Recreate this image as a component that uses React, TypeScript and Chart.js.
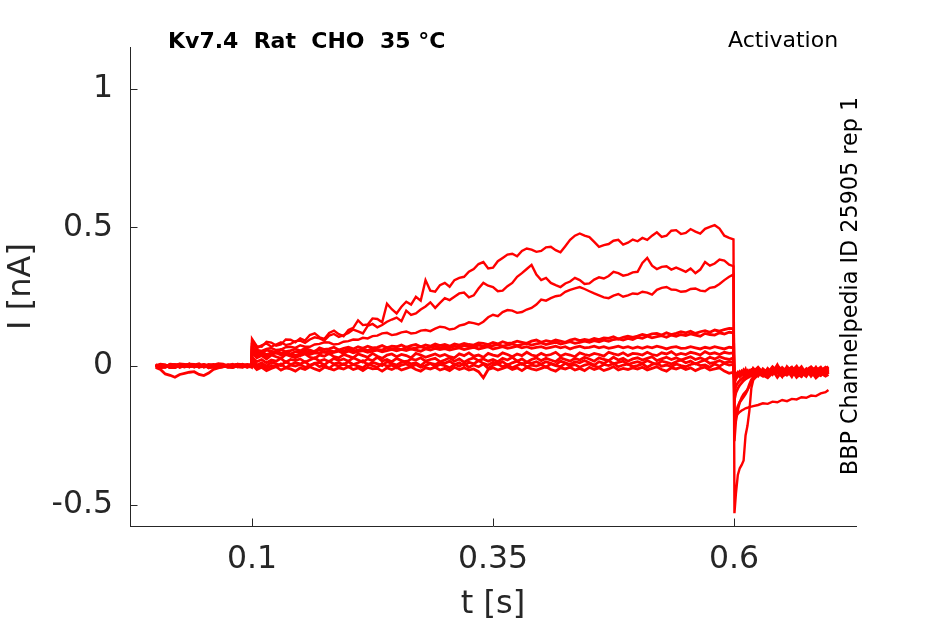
import { useEffect, useRef } from "react"
import { Chart, type ChartConfiguration, registerables } from "chart.js"

Chart.register(...registerables)

// sample times (s): holding, test pulse, tail
const timeS = [
  0, 0.005, 0.01, 0.015, 0.02, 0.025, 0.03, 0.035, 0.04, 0.045,
  0.05, 0.055, 0.06, 0.065, 0.07, 0.075, 0.08, 0.085, 0.09, 0.095, 0.0995,
  0.1, 0.105, 0.11, 0.115, 0.12, 0.125, 0.13, 0.135, 0.14, 0.145,
  0.15, 0.155, 0.16, 0.165, 0.17, 0.175, 0.18, 0.185, 0.19, 0.195,
  0.2, 0.205, 0.21, 0.215, 0.22, 0.225, 0.23, 0.235, 0.24, 0.245,
  0.25, 0.255, 0.26, 0.265, 0.27, 0.275, 0.28, 0.285, 0.29, 0.295,
  0.3, 0.305, 0.31, 0.315, 0.32, 0.325, 0.33, 0.335, 0.34, 0.345,
  0.35, 0.355, 0.36, 0.365, 0.37, 0.375, 0.38, 0.385, 0.39, 0.395,
  0.4, 0.405, 0.41, 0.415, 0.42, 0.425, 0.43, 0.435, 0.44, 0.445,
  0.45, 0.455, 0.46, 0.465, 0.47, 0.475, 0.48, 0.485, 0.49, 0.495,
  0.5, 0.505, 0.51, 0.515, 0.52, 0.525, 0.53, 0.535, 0.54, 0.545,
  0.55, 0.555, 0.56, 0.565, 0.57, 0.575, 0.58, 0.585, 0.59, 0.595, 0.5995,
  0.6005, 0.602, 0.604, 0.606, 0.608, 0.61, 0.612, 0.614, 0.616, 0.618,
  0.62, 0.625, 0.63, 0.635, 0.64, 0.645, 0.65, 0.655, 0.66, 0.665,
  0.67, 0.675, 0.68, 0.685, 0.69, 0.695, 0.698,
]

// current traces in pA (plotted as nA)
const trace1 = [
  4, -6, -3, 8, 6, -5, 2, 9, -4, 3, 5, -7, 1, 6, -2, 4, 8, -3, 3, 7, 5,
  98, 72, 70, 88, 85, 74, 78, 96, 95, 86,
  100, 92, 112, 118, 104, 98, 120, 128, 115, 108,
  130, 138, 165, 148, 150, 172, 170, 158, 225, 205,
  190, 214, 232, 222, 250, 236, 310, 272, 268, 292,
  300, 286, 310, 318, 322, 340, 350, 368, 375, 352,
  355, 378, 390, 402, 405, 396, 415, 424, 420, 412,
  415, 428, 430, 418, 410, 432, 455, 470, 478, 470,
  465, 448, 430, 436, 440, 452, 455, 438, 445, 456,
  450, 462, 455, 470, 482, 466, 470, 488, 490, 476,
  480, 494, 485, 478, 495, 502, 508, 496, 470, 462, 457,
  -530, -460, -392, -368, -356, -340, -250, -215, -160, -80,
  -50, -32, -18, -30, -10, -24, -36, -14, -4, -22,
  -30, -12, -26, -6, -20, -32, -14,
]
const trace2 = [
  -2, 5, 4, -6, -5, 3, 3, -4, 6, 1, -1, 7, 4, -5, -3, 2, 2, 8, 6, -3, 1,
  85, 64, 75, 82, 70, 78, 86, 76, 80, 90,
  92, 84, 96, 104, 100, 92, 110, 116, 105, 112,
  120, 132, 125, 118, 145, 152, 140, 148, 160, 168,
  175, 162, 200, 185, 190, 204, 215, 230, 210, 228,
  245, 238, 250, 262, 265, 248, 255, 280, 300, 290,
  285, 270, 272, 288, 300, 322, 335, 350, 365, 330,
  310, 318, 300, 292, 285, 298, 305, 318, 310, 296,
  298, 312, 320, 316, 325, 340, 335, 326, 330, 338,
  340, 372, 390, 362, 350, 358, 360, 348, 355, 348,
  340, 352, 335, 348, 375, 362, 370, 384, 380, 366, 360,
  -200, -182, -172, -165, -160, -156, -152, -150, -147, -146,
  -144, -140, -134, -136, -128, -130, -122, -126, -118, -120,
  -112, -114, -106, -108, -98, -94, -86,
]
const trace3 = [
  3, -1, -4, 6, 2, -3, 5, 8, -2, 1, 3, -6, -5, 4, 4, -2, 1, 6, -3, 2, 4,
  65, 58, 55, 62, 65, 58, 60, 68, 70, 66,
  75, 70, 70, 78, 80, 86, 85, 78, 80, 88,
  90, 96, 95, 102, 100, 108, 110, 118, 120, 112,
  115, 122, 125, 118, 120, 128, 130, 126, 135, 142,
  140, 132, 135, 146, 150, 158, 155, 150, 160, 176,
  185, 180, 195, 202, 200, 192, 195, 204, 210, 222,
  240, 236, 245, 252, 255, 268, 275, 280, 285, 278,
  270, 262, 255, 248, 245, 254, 260, 250, 255, 262,
  260, 268, 265, 258, 275, 282, 285, 276, 275, 268,
  270, 278, 280, 272, 270, 282, 285, 296, 310, 322, 330,
  -270, -200, -160, -130, -112, -100, -92, -84, -74, -60,
  -48, -30, -18, -36, -10, -26, -4, -20, -32, -12,
  -24, -38, -8, -22, -30, -14, -20,
]
const trace4 = [
  2, 7, 5, -4, -3, 6, 1, -2, 4, 9, -2, 3, 6, -1, 2, 5, -4, 1, 3, -2, 2,
  72, 52, 46, 58, 54, 48, 60, 52, 56, 62,
  55, 64, 58, 52, 66, 60, 62, 68, 58, 64,
  68, 62, 70, 64, 72, 66, 68, 74, 66, 72,
  70, 76, 68, 74, 78, 70, 76, 72, 80, 74,
  78, 72, 80, 76, 82, 78, 76, 84, 82, 78,
  85, 80, 88, 82, 84, 90, 86, 82, 90, 94,
  86, 92, 88, 94, 90, 86, 94, 98, 92, 96,
  93, 100, 96, 102, 100, 106, 98, 104, 108, 104,
  108, 114, 110, 116, 118, 112, 120, 114, 118, 124,
  120, 126, 118, 124, 128, 122, 130, 126, 132, 136, 135,
  -200, -170, -145, -130, -120, -110, -100, -86, -66, -50,
  -40, -22, -34, -8, -26, -16, -38, -2, -20, -30,
  -12, -28, -6, -24, -34, -14, -18,
]
const trace5 = [
  -3, 4, 2, -5, 4, 7, -1, 3, 3, -4, 6, 2, -2, 5, 1, -3, 4, 7, -1, 2, 3,
  62, 44, 50, 42, 48, 54, 46, 50, 44, 52,
  50, 56, 48, 54, 58, 50, 56, 52, 58, 54,
  60, 54, 58, 62, 56, 64, 60, 58, 66, 62,
  64, 60, 68, 62, 66, 70, 64, 68, 72, 66,
  70, 66, 72, 68, 74, 70, 68, 76, 72, 70,
  74, 78, 72, 76, 80, 74, 78, 82, 76, 80,
  84, 78, 82, 86, 80, 84, 88, 82, 86, 90,
  86, 92, 88, 94, 90, 96, 98, 94, 100, 96,
  104, 100, 108, 102, 106, 110, 104, 112, 108, 114,
  110, 116, 112, 108, 118, 114, 112, 120, 116, 122, 120,
  -120, -96, -80, -68, -60, -52, -46, -42, -38, -34,
  -30, -14, -28, -38, -6, -22, -32, -16, -4, -26,
  -36, -12, -20, -30, -8, -24, -16,
]
const trace6 = [
  1, -5, -4, 3, 3, 8, 6, -2, 1, 4, -3, 2, 4, 9, 7, -1, 2, 5, -2, 1, 5,
  52, 38, 44, 36, 42, 48, 40, 46, 42, 38,
  44, 50, 42, 48, 46, 52, 44, 50, 54, 46,
  55, 48, 52, 56, 50, 54, 58, 52, 56, 60,
  55, 60, 56, 62, 58, 54, 62, 58, 64, 60,
  63, 58, 62, 66, 60, 64, 68, 62, 66, 70,
  62, 66, 70, 64, 68, 72, 66, 70, 64, 68,
  70, 64, 68, 72, 66, 70, 62, 68, 72, 66,
  68, 72, 66, 70, 64, 68, 72, 66, 70, 64,
  69, 64, 70, 66, 72, 68, 62, 68, 70, 64,
  65, 70, 66, 62, 68, 64, 70, 66, 62, 68, 66,
  -90, -72, -60, -52, -46, -40, -36, -34, -30, -28,
  -26, -36, -10, -24, -2, -18, -30, -14, -38, -6,
  -22, -28, -12, -34, -16, -4, -12,
]
const trace7 = [
  4, 1, -2, 6, 5, -3, 1, 4, -3, 2, 6, -1, 2, 7, -1, 3, 4, -2, 7, 3, 2,
  48, 30, 38, 26, 40, 34, 28, 42, 36, 30,
  38, 44, 32, 28, 40, 36, 46, 34, 30, 42,
  36, 30, 44, 38, 32, 46, 36, 28, 40, 44,
  34, 42, 38, 30, 46, 40, 32, 38, 44, 36,
  42, 34, 30, 44, 38, 48, 36, 40, 32, 46,
  40, 36, 48, 42, 34, 44, 38, 50, 40, 36,
  46, 38, 42, 50, 36, 44, 40, 34, 48, 42,
  38, 46, 42, 36, 50, 44, 40, 48, 38, 46,
  44, 40, 50, 42, 38, 48, 44, 52, 40, 46,
  42, 50, 46, 40, 52, 44, 48, 42, 50, 46, 48,
  -60, -46, -36, -30, -26, -22, -28, -18, -24, -14,
  -20, -4, -24, -12, -30, 2, -16, -26, -8, -20,
  -2, -28, -14, -6, -24, -10, -2,
]
const trace8 = [
  -2, 4, 3, -5, -5, 2, 4, -1, 1, 5, -3, 0, 5, -4, -2, 3, 3, -1, 1, 4, -4,
  32, 16, 24, 12, 22, 18, 28, 14, 24, 20,
  26, 14, 22, 30, 18, 24, 16, 28, 20, 26,
  18, 30, 22, 14, 26, 20, 32, 18, 24, 16,
  28, 20, 14, 26, 22, 30, 18, 24, 28, 16,
  22, 30, 18, 26, 14, 24, 30, 20, 26, 18,
  24, 16, 28, 22, 32, 18, 26, 14, 24, 30,
  20, 28, 22, 16, 30, 24, 18, 28, 22, 32,
  26, 18, 30, 24, 20, 32, 22, 28, 18, 26,
  30, 22, 28, 34, 20, 26, 32, 24, 30, 22,
  28, 34, 24, 30, 22, 32, 26, 34, 28, 24, 30,
  -50, -38, -30, -24, -32, -20, -28, -16, -22, -30,
  -10, -28, -16, -34, -6, -22, -12, -32, -18, 0,
  -26, -10, -36, -16, -4, -28, -22,
]
const trace9 = [
  5, -2, 1, 4, -4, 3, 3, 7, 6, -3, -1, 4, 2, -5, 5, 1, -3, 6, 2, -4, 6,
  22, 4, 12, 0, 14, 8, 2, 16, 6, 12,
  8, 16, 2, 10, 14, 4, 18, 8, 12, 6,
  16, 6, 12, 20, 4, 14, 8, 2, 16, 10,
  4, 14, 18, 8, 12, 2, 16, 10, 6, 14,
  10, 18, 6, 12, 2, 14, 8, 20, 10, 4,
  14, 8, 16, 4, 12, 18, 6, 14, 10, 16,
  8, 16, 10, 4, 18, 12, 6, 16, 12, 20,
  12, 4, 16, 10, 20, 8, 14, 18, 6, 12,
  16, 10, 20, 12, 6, 18, 14, 8, 16, 22,
  12, 18, 8, 16, 22, 10, 14, 20, 12, 16, 14,
  -40, -30, -22, -30, -18, -26, -12, -34, -20, -14,
  -28, -8, -22, -30, -14, -40, -18, -6, -24, -34,
  -10, -20, -28, -4, -32, -16, -8,
]
const trace10 = [
  -4, 3, 2, -3, 5, 1, -3, 4, 1, -2, 4, -3, -2, 5, 3, -4, -5, 2, 2, -3, -1,
  12, -4, 4, -8, 2, -2, 8, -6, 4, 0,
  6, -4, 2, 10, -2, 4, -8, 6, 0, 8,
  -2, 6, 0, -6, 8, 2, -4, 10, 0, 4,
  -6, 4, 8, -2, 6, -4, 2, 10, -2, 6,
  2, -6, 6, 0, 10, -4, 4, -2, 8, -8,
  4, 8, -2, 6, -6, 2, 10, -2, 4, 0,
  6, -4, 8, 2, -2, 10, 0, 6, -4, 4,
  8, 0, -4, 6, 2, 10, -2, 4, 8, -2,
  2, 8, -4, 6, 10, 0, 4, -2, 8, 2,
  -2, 6, 10, 2, 4, -4, 8, 0, 10, 4, 6,
  -36, -26, -32, -20, -28, -14, -24, -30, -16, -22,
  -8, -26, -36, -14, -22, -4, -30, -18, -10, -26,
  -38, -14, -2, -20, -30, -12, -28,
]
const trace11 = [
  -5, -12, -28, -33, -40, -30, -26, -22, -20, -30, -34, -25, -12, -6, -2, 4, 3, -3, -4, 2, 1,
  6, -12, -4, -16, -8, -2, -14, -6, -10, -18,
  -6, -12, -2, -10, -16, -4, -8, -14, -6, -10,
  -2, -12, -6, -16, -4, -10, -8, -18, -6, -12,
  -4, -14, -8, -2, -12, -18, -6, -10, -4, -14,
  -8, -16, -4, -12, -6, -14, -10, -20, -42, -12,
  -6, -14, -8, -2, -12, -6, -16, -4, -10, -14,
  -8, -2, -12, -18, -6, -10, -4, -14, -8, -16,
  -4, -12, -6, -16, -10, -2, -14, -8, -12, -6,
  -10, -4, -14, -8, -2, -12, -18, -6, -10, -4,
  -12, -6, -16, -8, -4, -14, -10, -6, -18, -26, -22,
  -45, -36, -28, -38, -22, -30, -40, -20, -32, -26,
  -40, -18, -32, -42, -24, 4, -36, -28, -14, -40,
  -24, -34, -18, -42, -26, -36, -30,
]

const traces = [trace1, trace2, trace3, trace4, trace5, trace6, trace7, trace8, trace9, trace10, trace11]

const xTicks = [0.1, 0.35, 0.6]
const xTickLabels = ["0.1", "0.35", "0.6"]
const yTicks = [-0.5, 0, 0.5, 1]
const yTickLabels = ["-0.5", "0", "0.5", "1"]

const titleText = "Kv7.4  Rat  CHO  35 °C"
const protocolText = "Activation"
const sourceText = "BBP Channelpedia ID 25905 rep 1"

const FONT = "DejaVu Sans"
const AXIS_COLOR = "#262626"

// inward ticks and the free-standing texts, MATLAB style
const decorPlugin = {
  id: "decor",
  afterDraw(chart: Chart) {
    const { ctx, chartArea, scales } = chart
    const x = scales.x
    const y = scales.y
    ctx.save()
    ctx.strokeStyle = AXIS_COLOR
    ctx.lineWidth = 1
    ctx.beginPath()
    xTicks.forEach((v) => {
      const px = Math.round(x.getPixelForValue(v)) + 0.5
      ctx.moveTo(px, chartArea.bottom)
      ctx.lineTo(px, chartArea.bottom - 7.5)
    })
    yTicks.forEach((v) => {
      const py = Math.round(y.getPixelForValue(v)) + 0.5
      ctx.moveTo(chartArea.left, py)
      ctx.lineTo(chartArea.left + 7.5, py)
    })
    ctx.stroke()

    ctx.fillStyle = "#000000"
    ctx.textBaseline = "alphabetic"
    ctx.textAlign = "left"
    ctx.font = `bold 22px "${FONT}"`
    ctx.fillText(titleText, 168, 48)
    ctx.font = `22px "${FONT}"`
    ctx.fillText(protocolText, 728, 47)

    ctx.translate(857, 286)
    ctx.rotate(-Math.PI / 2)
    ctx.textAlign = "center"
    ctx.font = `22.3px "${FONT}"`
    ctx.fillText(sourceText, 0, 0)
    ctx.restore()
  },
}

export default function App() {
  const canvasRef = useRef<HTMLCanvasElement>(null)
  const chartRef = useRef<Chart | null>(null)

  useEffect(() => {
    if (!canvasRef.current) return
    if (chartRef.current) chartRef.current.destroy()

    const datasets = traces.map((tr, k) => ({
      label: `trace ${k + 1}`,
      data: timeS.map((t, i) => ({ x: t, y: tr[i] / 1000 })),
      borderColor: "#ff0000",
      borderWidth: k < 3 ? 2.4 : 2.8,
      pointRadius: 0,
      fill: false,
      tension: 0,
    }))

    const config: ChartConfiguration<"line"> = {
      type: "line",
      data: { datasets },
      options: {
        responsive: false,
        animation: false,
        layout: { padding: { left: 0, right: 89, top: 47, bottom: 0 } },
        plugins: {
          legend: { display: false },
          tooltip: { enabled: false },
        },
        scales: {
          x: {
            type: "linear",
            min: -0.0266,
            max: 0.7266,
            grid: { display: false, drawTicks: false },
            border: { display: true, color: AXIS_COLOR, width: 1 },
            afterBuildTicks: (s) => {
              s.ticks = xTicks.map((v) => ({ value: v }))
            },
            afterFit: (s) => {
              s.height = 98
            },
            ticks: {
              autoSkip: false,
              maxRotation: 0,
              padding: 15,
              color: AXIS_COLOR,
              font: { family: FONT, size: 31.5 },
              callback: (_v, i) => xTickLabels[i],
            },
            title: {
              display: true,
              text: "t [s]",
              color: AXIS_COLOR,
              font: { family: FONT, size: 32 },
              padding: { top: 0, bottom: 0 },
            },
          },
          y: {
            type: "linear",
            min: -0.576,
            max: 1.15,
            grid: { display: false, drawTicks: false },
            border: { display: true, color: AXIS_COLOR, width: 1 },
            afterBuildTicks: (s) => {
              s.ticks = yTicks.map((v) => ({ value: v }))
            },
            afterFit: (s) => {
              s.width = 130
            },
            ticks: {
              autoSkip: false,
              padding: 17,
              color: AXIS_COLOR,
              font: { family: FONT, size: 31.5 },
              callback: (_v, i) => yTickLabels[i],
            },
            title: {
              display: true,
              text: "I [nA]",
              color: AXIS_COLOR,
              font: { family: FONT, size: 32 },
              padding: { top: 2, bottom: 0 },
            },
          },
        },
      },
      plugins: [decorPlugin],
    }

    chartRef.current = new Chart(canvasRef.current, config)

    return () => {
      if (chartRef.current) {
        chartRef.current.destroy()
        chartRef.current = null
      }
    }
  }, [])

  return (
    <div style={{ position: "absolute", left: 0, top: 0, width: 945, height: 624, background: "#ffffff" }}>
      <canvas ref={canvasRef} width={945} height={624} style={{ display: "block" }}></canvas>
    </div>
  )
}
